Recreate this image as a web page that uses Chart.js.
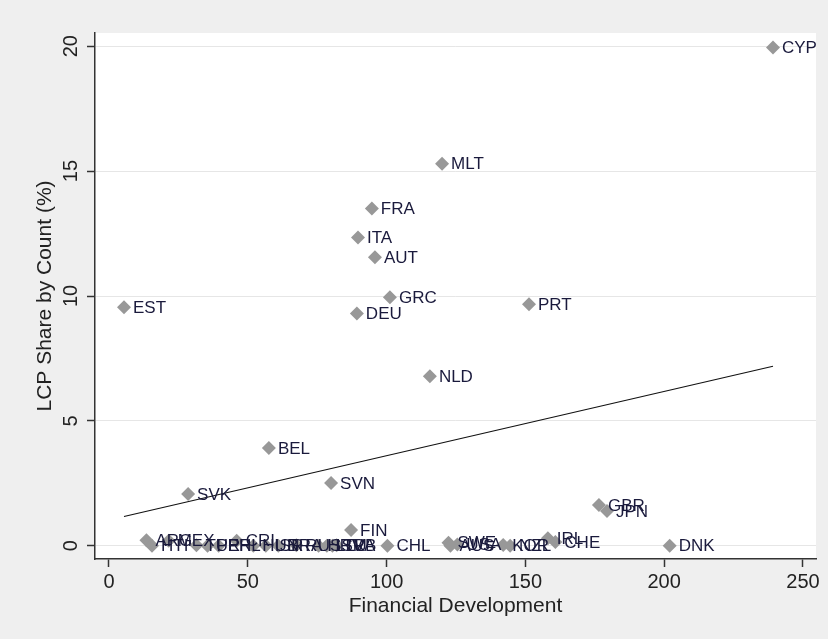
<!DOCTYPE html>
<html><head><meta charset="utf-8">
<script src="https://cdn.jsdelivr.net/npm/chart.js@4.4.0/dist/chart.umd.min.js"></script>
<style>html,body{margin:0;padding:0;background:#efefef;} canvas{display:block;}</style>
</head><body>
<canvas id="c" width="828" height="639" style="width:828px;height:639px"></canvas>
<script>
const countries = ['CYP','MLT','FRA','ITA','AUT','GRC','DEU','EST','PRT','NLD','BEL','SVN','SVK','FIN','GBR','JPN','IRL','CHE','DNK','CHL',
  'ARG','HTI','MEX','TUR','PER','PHL','CRI','HUN','ISR','BRA','RUS','HRV','LTU','SRB','LVA','SWE','AUS','USA','KOR','NZL'];
const finDev = [239.2,120.0,94.7,89.7,95.8,101.2,89.3,5.4,151.3,115.6,57.6,80.0,28.5,87.2,176.5,179.4,158.1,160.8,202.0,100.3,
  13.5,15.5,21.5,31.5,35.5,39.5,46.0,52.0,56.5,61.0,67.5,75.5,78.5,80.5,82.0,122.3,123.0,125.5,142.0,144.5];
const lcpShare = [19.95,15.3,13.5,12.34,11.55,9.95,9.3,9.55,9.67,6.79,3.91,2.51,2.07,0.63,1.63,1.39,0.3,0.15,0.0,0.0,
  0.22,0.0,0.2,0.02,0.0,0.0,0.2,0.0,0.0,0.0,0.02,0.0,0.0,0.0,0.02,0.12,0.0,0.05,0.03,0.0];
const fitX = [5.4, 239.2];
const fitY = [1.17, 7.19];
const xTicks = [0,50,100,150,200,250];
const yTicks = [0,5,10,15,20];
const xTitle = 'Financial Development';
const yTitle = 'LCP Share by Count (%)';

const FONT = '"Liberation Sans", Arial, sans-serif';

const bgPlugin = {
  id: 'bg',
  beforeDraw(chart) {
    const {ctx, chartArea: a} = chart;
    ctx.save();
    ctx.fillStyle = '#efefef';
    ctx.fillRect(0, 0, chart.width, chart.height);
    ctx.fillStyle = '#ffffff';
    ctx.fillRect(a.left, a.top, a.right - a.left, a.bottom - a.top);
    ctx.restore();
  }
};

const labelPlugin = {
  id: 'ptlabels',
  afterDatasetsDraw(chart) {
    const ctx = chart.ctx;
    const meta = chart.getDatasetMeta(0);
    ctx.save();
    ctx.font = '17px ' + FONT;
    ctx.fillStyle = '#1a1a3c';
    ctx.textAlign = 'left';
    ctx.textBaseline = 'middle';
    meta.data.forEach((el, i) => {
      ctx.fillText(countries[i], el.x + 9, el.y + 1);
    });
    ctx.restore();
  }
};

const yTickPlugin = {
  id: 'ytl',
  afterDraw(chart) {
    const ctx = chart.ctx;
    const s = chart.scales.y;
    ctx.save();
    ctx.font = '20px ' + FONT;
    ctx.fillStyle = '#222';
    ctx.textAlign = 'center';
    ctx.textBaseline = 'middle';
    yTicks.forEach(v => {
      const y = s.getPixelForValue(v);
      ctx.save();
      ctx.translate(s.right - 24, y);
      ctx.rotate(-Math.PI / 2);
      ctx.fillText(String(v), 0, 0);
      ctx.restore();
    });
    ctx.restore();
  }
};

new Chart(document.getElementById('c'), {
  data: {
    datasets: [
      {
        type: 'scatter',
        data: finDev.map((x, i) => ({x: x, y: lcpShare[i]})),
        pointStyle: 'rectRot',
        pointRadius: 7,
        backgroundColor: '#989898',
        borderColor: '#989898',
        borderWidth: 0
      },
      {
        type: 'line',
        data: fitX.map((x, i) => ({x: x, y: fitY[i]})),
        borderColor: '#111',
        borderWidth: 1.1,
        pointRadius: 0,
        fill: false
      }
    ]
  },
  options: {
    responsive: false,
    animation: false,
    devicePixelRatio: 1,
    layout: {padding: {left: 33, right: 12, top: 33, bottom: 20}},
    plugins: {legend: {display: false}, tooltip: {enabled: false}},
    scales: {
      x: {
        type: 'linear',
        position: 'bottom',
        min: -5.04, max: 254.7,
        afterBuildTicks: s => { s.ticks = xTicks.map(v => ({value: v})); },
        afterFit: s => { s.height = 60; },
        ticks: {font: {family: FONT, size: 20}, color: '#222', padding: 3, maxRotation: 0, minRotation: 0, autoSkip: false},
        grid: {drawOnChartArea: false, drawTicks: true, tickLength: 8, tickColor: '#333', tickWidth: 1.5},
        border: {color: '#333', width: 1.5},
        title: {display: true, text: xTitle, font: {family: FONT, size: 21}, color: '#222', padding: 0}
      },
      y: {
        type: 'linear',
        position: 'left',
        min: -0.53, max: 20.53,
        afterBuildTicks: s => { s.ticks = yTicks.map(v => ({value: v})); },
        afterFit: s => { s.width = 62; },
        ticks: {display: false},
        grid: {color: '#e6e6e6', lineWidth: 1, drawTicks: true, tickLength: 8, tickColor: '#333', tickWidth: 1.5},
        border: {color: '#333', width: 1.5},
        title: {display: true, text: yTitle, font: {family: FONT, size: 21}, color: '#222', padding: 0}
      }
    }
  },
  plugins: [bgPlugin, labelPlugin, yTickPlugin]
});
</script>
</body></html>
